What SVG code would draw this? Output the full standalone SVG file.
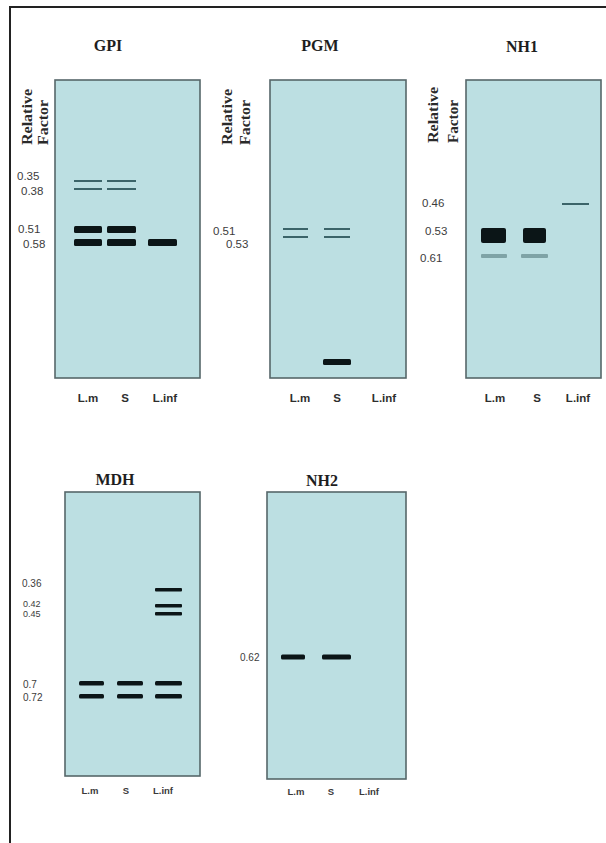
<svg xmlns="http://www.w3.org/2000/svg" width="606" height="843" viewBox="0 0 606 843">
<style>
.panel{fill:#bcdfe2;stroke:#56676a;stroke-width:1.6}
.title{font-family:"Liberation Serif",serif;font-weight:bold;font-size:16px;fill:#1e1e1e;text-anchor:middle}
.rf{font-family:"Liberation Serif",serif;font-weight:bold;font-size:14px;fill:#2a2a2a}
.num{font-family:"Liberation Sans",sans-serif;font-size:11.5px;fill:#3c3c3c}
.nums{font-family:"Liberation Sans",sans-serif;font-size:10px;fill:#3c3c3c}
.numt{font-family:"Liberation Sans",sans-serif;font-size:9px;fill:#3c3c3c}
.lane{font-family:"Liberation Sans",sans-serif;font-weight:bold;font-size:11.5px;fill:#2e2e2e;text-anchor:middle}
.lanes{font-family:"Liberation Sans",sans-serif;font-weight:bold;font-size:9.5px;fill:#3a3a3a;text-anchor:middle}
.thick{fill:#0b1517}
.thin{fill:#3b6469}
.grey{fill:#7fa3a6}
</style>
<rect width="606" height="843" fill="#ffffff"/>
<g id="frame" stroke="#222" stroke-width="2" fill="none">
<line x1="10" y1="7" x2="606" y2="7"/>
<line x1="10" y1="6" x2="10" y2="843"/>
</g>

<g id="gpi">
<text class="title" x="108" y="51">GPI</text>
<text class="rf" transform="translate(32,145) rotate(-90)" textLength="56" lengthAdjust="spacingAndGlyphs">Relative</text>
<text class="rf" transform="translate(48,145) rotate(-90)" textLength="45" lengthAdjust="spacingAndGlyphs">Factor</text>
<rect class="panel" x="55" y="80" width="145" height="298"/>
<text class="num" x="17" y="180">0.35</text>
<text class="num" x="21" y="195">0.38</text>
<text class="num" x="18" y="233">0.51</text>
<text class="num" x="23" y="248">0.58</text>
<rect class="thin" x="74" y="180" width="28" height="2"/>
<rect class="thin" x="74" y="188" width="28" height="2"/>
<rect class="thin" x="107" y="180" width="29" height="2"/>
<rect class="thin" x="107" y="188" width="29" height="2"/>
<rect class="thick" x="74" y="226" width="28" height="7" rx="1.5"/>
<rect class="thick" x="107" y="226" width="29" height="7" rx="1.5"/>
<rect class="thick" x="74" y="239" width="28" height="7" rx="1.5"/>
<rect class="thick" x="107" y="239" width="29" height="7" rx="1.5"/>
<rect class="thick" x="148" y="239" width="29" height="7" rx="1.5"/>
<text class="lane" x="88" y="402">L.m</text>
<text class="lane" x="125" y="402">S</text>
<text class="lane" x="165" y="402">L.inf</text>
</g>

<g id="pgm">
<text class="title" x="320" y="51">PGM</text>
<text class="rf" transform="translate(232,145) rotate(-90)" textLength="56" lengthAdjust="spacingAndGlyphs">Relative</text>
<text class="rf" transform="translate(250,145) rotate(-90)" textLength="45" lengthAdjust="spacingAndGlyphs">Factor</text>
<rect class="panel" x="270" y="80" width="136" height="298"/>
<text class="num" x="213" y="235">0.51</text>
<text class="num" x="226" y="248">0.53</text>
<rect class="thin" x="283" y="228" width="25" height="2"/>
<rect class="thin" x="283" y="236" width="25" height="2"/>
<rect class="thin" x="324" y="228" width="26" height="2"/>
<rect class="thin" x="324" y="236" width="26" height="2"/>
<rect class="thick" x="323" y="359" width="28" height="6" rx="1.5"/>
<text class="lane" x="300" y="402">L.m</text>
<text class="lane" x="337" y="402">S</text>
<text class="lane" x="384" y="402">L.inf</text>
</g>

<g id="nh1">
<text class="title" x="522" y="52">NH1</text>
<text class="rf" transform="translate(438,143) rotate(-90)" textLength="56" lengthAdjust="spacingAndGlyphs">Relative</text>
<text class="rf" transform="translate(458,143) rotate(-90)" textLength="43" lengthAdjust="spacingAndGlyphs">Factor</text>
<rect class="panel" x="466" y="80" width="135" height="298"/>
<text class="num" x="422" y="207">0.46</text>
<text class="num" x="425" y="235">0.53</text>
<text class="num" x="420" y="262">0.61</text>
<rect class="thin" x="562" y="203" width="27" height="2"/>
<rect class="thick" x="481" y="228" width="25" height="15" rx="2"/>
<rect class="thick" x="523" y="228" width="23" height="15" rx="2"/>
<rect class="grey" x="481" y="254" width="26" height="4" rx="1"/>
<rect class="grey" x="521" y="254" width="27" height="4" rx="1"/>
<text class="lane" x="495" y="402">L.m</text>
<text class="lane" x="537" y="402">S</text>
<text class="lane" x="578" y="402">L.inf</text>
</g>

<g id="mdh">
<text class="title" x="115" y="485">MDH</text>
<rect class="panel" x="65" y="492" width="135" height="284"/>
<text class="nums" x="22" y="587">0.36</text>
<text class="numt" x="23" y="607">0.42</text>
<text class="numt" x="23" y="617">0.45</text>
<text class="nums" x="23" y="688">0.7</text>
<text class="nums" x="23" y="701">0.72</text>
<rect class="thick" x="155" y="588" width="27" height="3.5" rx="1"/>
<rect class="thick" x="155" y="604" width="27" height="3.5" rx="1"/>
<rect class="thick" x="155" y="612" width="27" height="3.5" rx="1"/>
<rect class="thick" x="79" y="681" width="25" height="4.5" rx="1.5"/>
<rect class="thick" x="117" y="681" width="26" height="4.5" rx="1.5"/>
<rect class="thick" x="155" y="681" width="27" height="4.5" rx="1.5"/>
<rect class="thick" x="79" y="694" width="25" height="4.5" rx="1.5"/>
<rect class="thick" x="117" y="694" width="26" height="4.5" rx="1.5"/>
<rect class="thick" x="155" y="694" width="27" height="4.5" rx="1.5"/>
<text class="lanes" x="90" y="794">L.m</text>
<text class="lanes" x="126" y="794">S</text>
<text class="lanes" x="163" y="794">L.inf</text>
</g>

<g id="nh2">
<text class="title" x="322" y="486">NH2</text>
<rect class="panel" x="267" y="492" width="139" height="287"/>
<text class="nums" x="240" y="661">0.62</text>
<rect class="thick" x="281" y="654.5" width="24" height="5" rx="1.5"/>
<rect class="thick" x="322" y="654.5" width="29" height="5" rx="1.5"/>
<text class="lanes" x="296" y="795">L.m</text>
<text class="lanes" x="331" y="795">S</text>
<text class="lanes" x="369" y="795">L.inf</text>
</g>

<g id="connectors"></g>
</svg>
